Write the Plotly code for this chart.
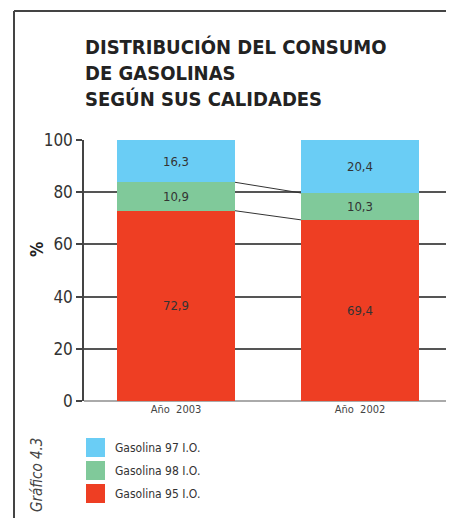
"""Distribución del consumo de gasolinas según sus calidades."""

import plotly.graph_objects as go

years = ["Año  2003", "Año  2002"]
gas_95 = [72.9, 69.4]
gas_98 = [10.9, 10.3]
gas_97 = [16.3, 20.4]
series_names = ["Gasolina 95 I.O.", "Gasolina 98 I.O.", "Gasolina 97 I.O."]
series_colors = ["#EE3E23", "#80C99A", "#6ACDF5"]

# the page body has an 8px margin all round; keep the figure inside the window
OFF = 8
W, H = 454 - 2 * OFF, 526 - 2 * OFF
PL, PR, PT, PB = 84, OFF + W, 140, 401   # plot area in window pixels
L, R, T, B = PL - OFF, 0, PT - OFF, (OFF + H) - PB
FONT = "DejaVu Sans Condensed, Liberation Sans Narrow, Arial Narrow, sans-serif"
CAT_PX = 184          # pixels per category
BAR_W = 118 / CAT_PX


def px_x(p):
    return (p - PL) / (PR - PL)


def px_y(p):
    return (PB - p) / (PB - PT)


fig = go.Figure()
for name, vals, color in zip(series_names, [gas_95, gas_98, gas_97], series_colors):
    fig.add_trace(go.Bar(
        x=list(range(len(years))), y=vals, name=name, marker_color=color,
        marker_line_width=0, width=BAR_W,
        texttemplate="%{y:.1f}", textposition="inside", insidetextanchor="middle",
        textfont=dict(family=FONT, size=13, color="#333333"),
        showlegend=False,
    ))

# series lines joining the tops of the two lower segments
cum = [0.0, 0.0]
for vals in [gas_95, gas_98]:
    cum = [c + v for c, v in zip(cum, vals)]
    fig.add_trace(go.Scatter(
        x=[0 + BAR_W / 2, 1 - BAR_W / 2], y=cum, mode="lines",
        line=dict(color="#333333", width=1), showlegend=False, hoverinfo="skip",
    ))

fig.update_layout(
    width=W, height=H, barmode="stack", separators=", ",
    margin=dict(l=L, r=R, t=T, b=B, pad=0),
    plot_bgcolor="white", paper_bgcolor="white",
    font=dict(family=FONT, color="#333333"),
    xaxis=dict(
        range=[-0.5, -0.5 + (PR - PL) / CAT_PX],
        tickvals=list(range(len(years))), ticktext=years,
        showgrid=False, zeroline=False, showline=False, ticks="",
        tickfont=dict(size=11, color="#444444"),
    ),
    yaxis=dict(
        range=[0, 100], dtick=20, showgrid=True, gridcolor="#555555", gridwidth=1.5,
        zeroline=True, zerolinecolor="#aaaaaa", zerolinewidth=2,
        showline=True, linecolor="#444444", linewidth=1.5,
        ticks="outside", ticklen=6, tickcolor="#444444", tickwidth=1.5,
        tickfont=dict(size=17, color="#333333"),
    ),
)

fig.add_annotation(
    text="<b>%</b>", textangle=-90, xref="paper", yref="paper",
    x=px_x(37), y=px_y(250), xanchor="center", yanchor="middle", showarrow=False,
    font=dict(family=FONT, size=17, color="#222222"),
)

# frame lines, kept inside the figure
fig.add_shape(type="line", xref="paper", yref="paper", x0=px_x(14), x1=px_x(14),
              y0=px_y(11), y1=px_y(OFF + H), line=dict(color="#444444", width=2))
fig.add_shape(type="line", xref="paper", yref="paper", x0=px_x(14), x1=px_x(OFF + W),
              y0=px_y(11), y1=px_y(11), line=dict(color="#444444", width=2))

fig.add_annotation(
    text="<b>DISTRIBUCIÓN DEL CONSUMO<br>DE GASOLINAS<br>SEGÚN SUS CALIDADES</b>",
    xref="paper", yref="paper", x=px_x(83), y=px_y(33), xanchor="left", yanchor="top",
    align="left", showarrow=False, font=dict(family=FONT, size=20, color="#222222"),
)

fig.add_annotation(
    text="<i>Gráfico 4.3</i>", textangle=-90, xref="paper", yref="paper",
    x=px_x(37), y=px_y(475), xanchor="center", yanchor="middle", showarrow=False,
    font=dict(family=FONT, size=15, color="#444444"),
)

# legend drawn as squares + labels, top entry first
for i, (name, color) in enumerate(zip(series_names[::-1], series_colors[::-1])):
    top = 438 + i * 23
    fig.add_shape(type="rect", xref="paper", yref="paper", x0=px_x(86), x1=px_x(105),
                  y0=px_y(top), y1=px_y(top + 19), fillcolor=color, line_width=0)
    fig.add_annotation(text=name, xref="paper", yref="paper", x=px_x(113),
                       y=px_y(top + 10), xanchor="left", yanchor="middle",
                       showarrow=False, font=dict(family=FONT, size=12, color="#333333"))

fig.write_html("out.html")
